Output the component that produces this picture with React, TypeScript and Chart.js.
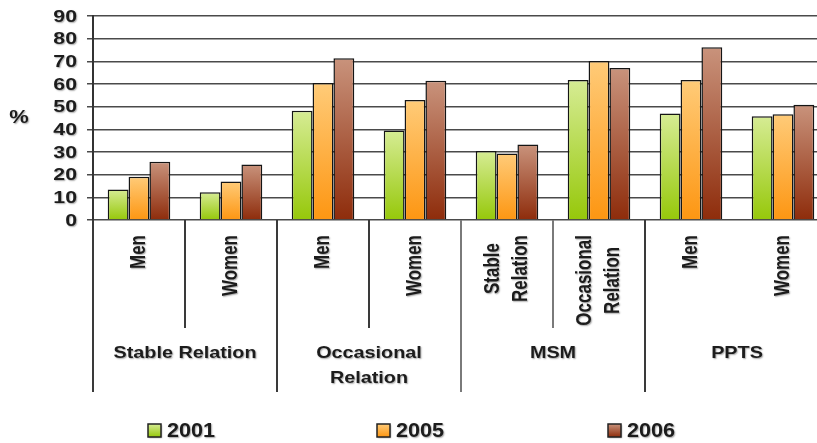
import React, { useEffect, useRef } from "react";
import { Chart, registerables } from "chart.js";

Chart.register(...registerables);

const subLabels: string[][] = [
  ["Men"], ["Women"], ["Men"], ["Women"],
  ["Stable", "Relation"], ["Occasional", "Relation"], ["Men"], ["Women"],
];
const groupLabels: string[][] = [["Stable Relation"], ["Occasional", "Relation"], ["MSM"], ["PPTS"]];
const groupSpans = [2, 2, 2, 2];
const seriesNames = ["2001", "2005", "2006"];
const v2001 = [13.5, 12.2, 48.2, 39.5, 30.4, 61.8, 47.0, 45.8];
const v2005 = [19.1, 17.0, 60.4, 52.9, 29.3, 70.2, 61.8, 46.6];
const v2006 = [25.7, 24.5, 71.4, 61.4, 33.3, 67.1, 76.2, 50.9];
const yTicks = [0, 10, 20, 30, 40, 50, 60, 70, 80, 90];

const gradStops: [string, string][] = [
  ["#d6ec94", "#96c80a"],
  ["#ffcb78", "#fd9612"],
  ["#c9937c", "#8e2c0b"],
];

const FONT = '"Liberation Sans", Arial, sans-serif';
const TEXT = "#1c1c1c";

function drawText(
  ctx: CanvasRenderingContext2D, s: string, x: number, y: number,
  size: number, sx: number, align: CanvasTextAlign
) {
  ctx.save();
  ctx.translate(x, y);
  ctx.scale(sx, 1);
  ctx.font = `bold ${size}px ${FONT}`;
  ctx.textAlign = align;
  ctx.textBaseline = "middle";
  ctx.fillStyle = TEXT;
  ctx.shadowColor = "rgba(0,0,0,0.35)";
  ctx.shadowOffsetX = 1;
  ctx.shadowOffsetY = 1;
  ctx.shadowBlur = 1.5;
  ctx.fillText(s, 0, 0);
  ctx.restore();
}

const overlay = {
  id: "overlay",
  afterDraw(chart: any) {
    const ctx: CanvasRenderingContext2D = chart.ctx;
    const ca = chart.chartArea;
    const x = chart.scales.x;
    const y = chart.scales.y;
    const n = subLabels.length;
    const catW = (ca.right - ca.left) / n;
    const bottomShort = 328;
    const bottomLong = 392;

    // y ticks
    yTicks.forEach((t) => drawText(ctx, String(t), ca.left - 16, y.getPixelForValue(t) + 1, 17, 1.25, "right"));
    drawText(ctx, "%", 19, 118, 19, 1.15, "center");

    // lines below axis
    ctx.save();
    ctx.lineWidth = 2;
    ctx.strokeStyle = "#3a3a3a";
    ctx.beginPath();
    ctx.moveTo(ca.left, ca.bottom);
    ctx.lineTo(ca.left, bottomLong);
    ctx.stroke();
    let idx = 0;
    groupSpans.forEach((span, gi) => {
      for (let k = 1; k < span; k++) {
        const bx = ca.left + (idx + k) * catW;
        if (gi === groupSpans.length - 1) continue;
        ctx.strokeStyle = gi === 2 ? "#7a7a7a" : "#3a3a3a";
        ctx.beginPath();
        ctx.moveTo(bx, ca.bottom);
        ctx.lineTo(bx, bottomShort);
        ctx.stroke();
      }
      idx += span;
      if (idx < n) {
        const bx = ca.left + idx * catW;
        ctx.strokeStyle = gi === 1 ? "#7a7a7a" : "#3a3a3a";
        ctx.beginPath();
        ctx.moveTo(bx, ca.bottom);
        ctx.lineTo(bx, bottomLong);
        ctx.stroke();
      }
    });
    ctx.restore();

    // rotated sub labels
    subLabels.forEach((lines, i) => {
      const cx = x.getPixelForValue(i);
      ctx.save();
      ctx.font = `bold 17px ${FONT}`;
      const maxW = Math.max(...lines.map((l) => ctx.measureText(l).width));
      ctx.restore();
      const cy = 235 + maxW / 2;
      const lh = 28;
      lines.forEach((l, li) => {
        const lx = cx + (li - (lines.length - 1) / 2) * lh;
        ctx.save();
        ctx.translate(lx, cy);
        ctx.rotate(-Math.PI / 2);
        ctx.scale(1, 1.35);
        ctx.font = `bold 17px ${FONT}`;
        ctx.textAlign = "center";
        ctx.textBaseline = "middle";
        ctx.fillStyle = TEXT;
        ctx.shadowColor = "rgba(0,0,0,0.35)";
        ctx.shadowOffsetX = 1;
        ctx.shadowOffsetY = 1;
        ctx.shadowBlur = 1.5;
        ctx.fillText(l, 0, 0);
        ctx.restore();
      });
    });

    // group labels
    idx = 0;
    groupLabels.forEach((lines, gi) => {
      const span = groupSpans[gi];
      const gx = ca.left + (idx + span / 2) * catW;
      lines.forEach((l, li) => drawText(ctx, l, gx, 353 + li * 25, 16.5, 1.2, "center"));
      idx += span;
    });

    // legend
    const legendX = [148, 377, 608];
    seriesNames.forEach((name, si) => {
      const bx = legendX[si];
      const by = 424;
      ctx.save();
      ctx.shadowColor = "rgba(0,0,0,0.35)";
      ctx.shadowOffsetX = 1;
      ctx.shadowOffsetY = 1;
      ctx.shadowBlur = 1.5;
      const g = ctx.createLinearGradient(0, by, 0, by + 13);
      g.addColorStop(0, gradStops[si][0]);
      g.addColorStop(1, gradStops[si][1]);
      ctx.fillStyle = g;
      ctx.fillRect(bx, by, 13, 13);
      ctx.shadowColor = "transparent";
      ctx.strokeStyle = "#222";
      ctx.lineWidth = 1.5;
      ctx.strokeRect(bx, by, 13, 13);
      ctx.restore();
      drawText(ctx, name, bx + 19, by + 7, 20, 1.08, "left");
    });
  },
};

function makeBg(si: number) {
  return (c: any) => {
    const chart = c.chart;
    const ca = chart.chartArea;
    if (!ca || c.raw == null) return gradStops[si][1];
    const top = chart.scales.y.getPixelForValue(c.raw);
    const g = chart.ctx.createLinearGradient(0, top, 0, ca.bottom);
    g.addColorStop(0, gradStops[si][0]);
    g.addColorStop(1, gradStops[si][1]);
    return g;
  };
}

export default function App() {
  const ref = useRef<HTMLCanvasElement>(null);
  useEffect(() => {
    if (!ref.current) return;
    const data = [v2001, v2005, v2006];
    const chart = new Chart(ref.current, {
      type: "bar",
      data: {
        labels: subLabels.map((l) => l.join(" ")),
        datasets: seriesNames.map((name, si) => ({
          label: name,
          data: data[si],
          backgroundColor: makeBg(si),
          borderColor: "#151515",
          borderWidth: 1.5,
          categoryPercentage: 0.68,
          barPercentage: 1.0,
        })),
      },
      options: {
        responsive: false,
        animation: false,
        layout: { padding: { left: 0, right: 11, top: 16, bottom: 223 } },
        plugins: { legend: { display: false }, tooltip: { enabled: false } },
        scales: {
          x: { display: false },
          y: {
            min: 0,
            max: 90,
            ticks: { display: false, stepSize: 10 },
            grid: { color: "#4a4a4a", lineWidth: 1.5, tickLength: 6, drawTicks: true },
            border: { display: true, color: "#333", width: 2 },
            afterFit: (s: any) => { s.width = 93; },
          },
        },
      },
      plugins: [overlay],
    });
    return () => chart.destroy();
  }, []);
  return (
    <div style={{ position: "fixed", left: 0, top: 0, width: 840, height: 443, background: "#fff" }}>
      <canvas ref={ref} width={840} height={443} style={{ display: "block" }} />
    </div>
  );
}
